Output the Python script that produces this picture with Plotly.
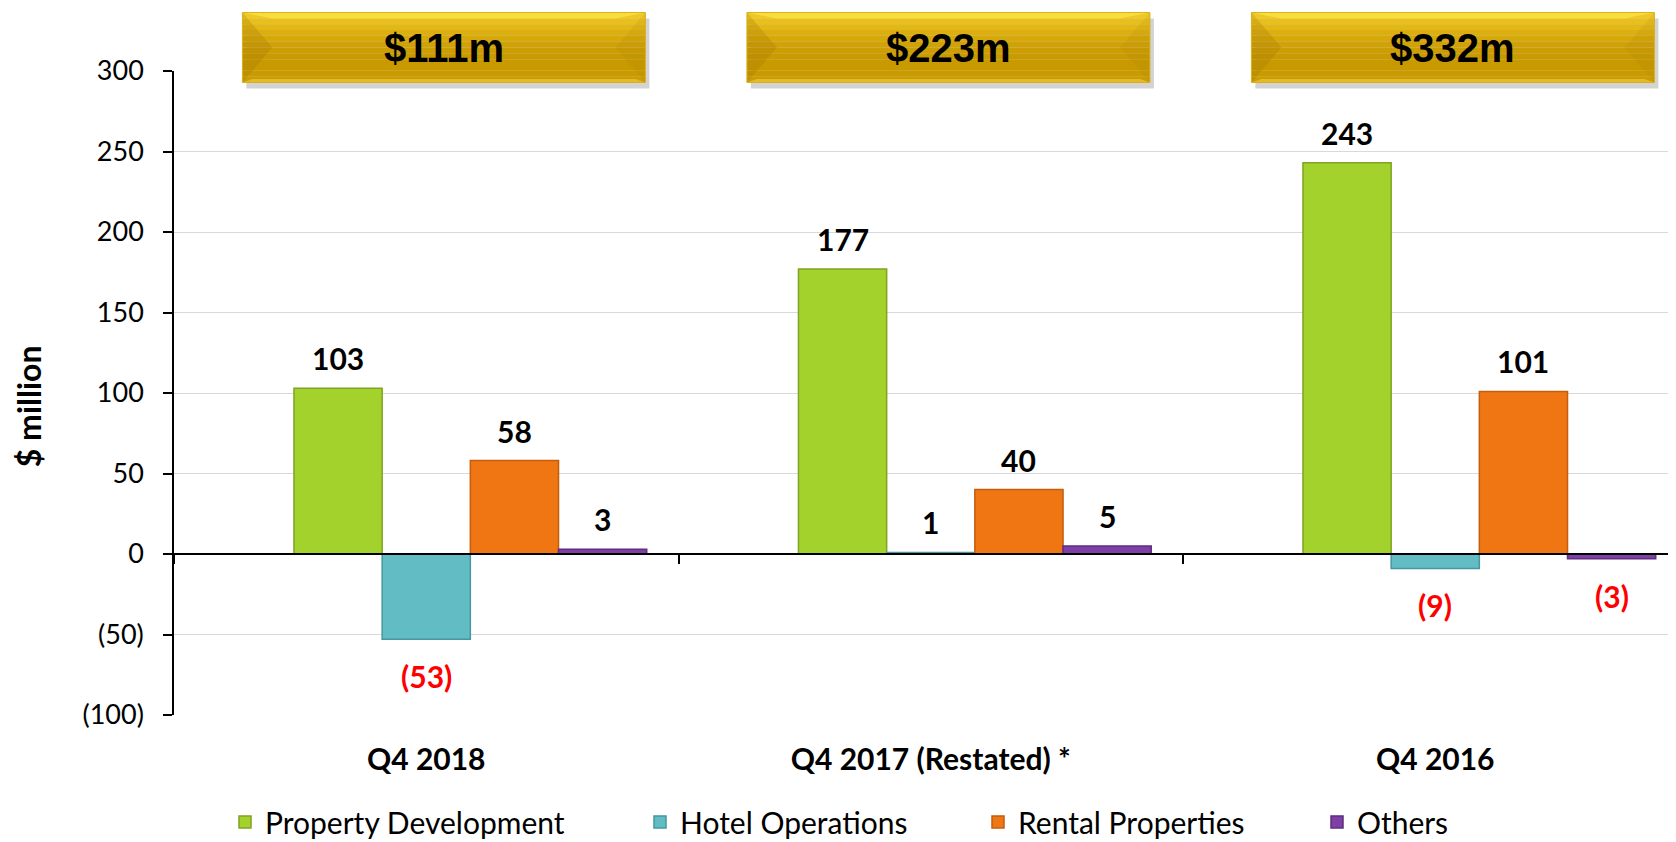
import plotly.graph_objects as go

categories = ["Q4 2018", "Q4 2017 (Restated) *", "Q4 2016"]
series_names = ["Property Development", "Hotel Operations", "Rental Properties", "Others"]
property_dev = [103, 177, 243]
hotel_ops = [-53, 1, -9]
rental = [58, 40, 101]
others = [3, 5, -3]
totals = ["$111m", "$223m", "$332m"]
y_ticks = [-100, -50, 0, 50, 100, 150, 200, 250, 300]
y_ticktext = ["(100)", "(50)", "0", "50", "100", "150", "200", "250", "300"]

series_values = [property_dev, hotel_ops, rental, others]
fills = ["#A4D22C", "#62BCC4", "#F07614", "#7E3FA6"]
edges = ["#7FA322", "#46979E", "#C25E0E", "#5E2E80"]

# page geometry (the page body has an 8px margin)
OFF = 8
W, H = 1676 - OFF, 842 - OFF
PL, PT, PB, PR = 174, 70.5, 715, 1676
plot_w = PR - PL
plot_h = PB - PT
ML, MT, MR, MB = PL - OFF, PT - OFF, 0, (OFF + H) - PB
px_per_cat = 504.5
x_end = -0.5 + plot_w / px_per_cat

bw = 0.1748
slot_start = -0.437
centers = [slot_start + bw * (k + 1.5) for k in range(4)]

fig = go.Figure()
legend_ids = ["legend", "legend2", "legend3", "legend4"]
for k in range(4):
    fig.add_trace(go.Bar(
        x=categories, y=series_values[k], name=series_names[k],
        width=bw, offset=centers[k] - bw / 2,
        marker=dict(color=fills[k], line=dict(color=edges[k], width=1.5)),
        legend=legend_ids[k], hoverinfo="skip",
    ))

# helper trace for the zero-line axis
fig.add_trace(go.Scatter(x=categories, y=[None] * 3, xaxis="x2", yaxis="y",
                         showlegend=False, hoverinfo="skip", mode="markers"))

annotations = []
# data labels
for k in range(4):
    for i, v in enumerate(series_values[k]):
        if v >= 0:
            annotations.append(dict(x=i + centers[k], y=v, xref="x", yref="y",
                                    text=f"<b>{v}</b>", showarrow=False,
                                    yanchor="middle", yshift=30,
                                    font=dict(family="Lato", size=30, color="#000000")))
        else:
            annotations.append(dict(x=i + centers[k], y=v, xref="x", yref="y",
                                    text=f"<b>({abs(v)})</b>", showarrow=False,
                                    yanchor="middle", yshift=-37,
                                    font=dict(family="Lato", size=30, color="#FF0000")))

# y title
annotations.append(dict(x=(28 - PL) / plot_w, y=1 - (406 - PT) / plot_h, xref="paper", yref="paper",
                        xanchor="center", yanchor="middle",
                        text="<b>$ million</b>", textangle=-90, showarrow=False,
                        font=dict(family="Lato", size=32, color="#000000")))

# gold boxes
shapes = []
box_w = 403 / px_per_cat
box_h = 70 / plot_h
bev_x = 30 / px_per_cat
bev_y = 6 / plot_h
box_cy = 1 + (PT - 47) / plot_h
sh_x = 4 / px_per_cat
sh_y = 6 / plot_h
grad = ["#EEC826", "#E8BF1C", "#E2B716", "#DCAF10", "#D6A80A", "#D1A206", "#CD9E03",
        "#CA9B01", "#C99A00", "#C99A00", "#CA9B01", "#CC9D02"]
for i, t in enumerate(totals):
    cx = i + 0.035
    x0, x1 = cx - box_w / 2, cx + box_w / 2
    y0, y1 = box_cy - box_h / 2, box_cy + box_h / 2
    shapes.append(dict(type="rect", xref="x", yref="paper", x0=x0 + sh_x, x1=x1 + sh_x,
                       y0=y0 - sh_y, y1=y1 - sh_y, fillcolor="rgba(110,110,110,0.30)",
                       line=dict(width=0), layer="above"))
    n = len(grad)
    for s, c in enumerate(grad):
        ya = y1 - (y1 - y0) * s / n
        yb = y1 - (y1 - y0) * (s + 1) / n
        shapes.append(dict(type="rect", xref="x", yref="paper", x0=x0, x1=x1, y0=yb, y1=ya,
                           fillcolor=c, line=dict(width=0), layer="above"))
    shapes.append(dict(type="path", xref="x", yref="paper",
                       path=f"M{x0},{y1} L{x1},{y1} L{x1 - bev_x},{y1 - bev_y} L{x0 + bev_x},{y1 - bev_y} Z",
                       fillcolor="#F8DE3C", line=dict(width=0), layer="above"))
    shapes.append(dict(type="path", xref="x", yref="paper",
                       path=f"M{x0},{y1} L{x0 + bev_x},{(y0 + y1) / 2} L{x0},{y0} Z",
                       fillcolor="rgba(150,105,0,0.22)", line=dict(width=0), layer="above"))
    shapes.append(dict(type="path", xref="x", yref="paper",
                       path=f"M{x1},{y1} L{x1 - bev_x},{(y0 + y1) / 2} L{x1},{y0} Z",
                       fillcolor="rgba(150,105,0,0.10)", line=dict(width=0), layer="above"))
    shapes.append(dict(type="path", xref="x", yref="paper",
                       path=f"M{x0},{y0} L{x1},{y0} L{x1 - bev_x / 3},{y0 + bev_y * 0.6} L{x0 + bev_x / 3},{y0 + bev_y * 0.6} Z",
                       fillcolor="#E4BA26", line=dict(width=0), layer="above"))
    shapes.append(dict(type="rect", xref="x", yref="paper", x0=x0, x1=x1, y0=y0, y1=y1,
                       fillcolor="rgba(0,0,0,0)", line=dict(color="#D9B01E", width=1), layer="above"))
    annotations.append(dict(x=cx, y=box_cy, xref="x", yref="paper", text=f"<b>{t}</b>",
                            showarrow=False, yanchor="middle", xanchor="center",
                            font=dict(family="Liberation Sans", size=40, color="#000000")))

legend_x_px = [225, 640, 978, 1317]
legend_y = -(822 - PB) / plot_h
layout_legends = {}
for k, lid in enumerate(legend_ids):
    layout_legends[lid] = dict(x=(legend_x_px[k] - PL) / plot_w, y=legend_y,
                               xanchor="left", yanchor="middle", orientation="h",
                               bgcolor="rgba(0,0,0,0)", borderwidth=0,
                               font=dict(family="Lato", size=30, color="#000000"))

fig.update_layout(
    width=W, height=H,
    margin=dict(l=ML, r=MR, t=MT, b=MB, autoexpand=False),
    plot_bgcolor="white", paper_bgcolor="white",
    barmode="overlay",
    showlegend=True,
    xaxis=dict(type="category", categoryarray=categories, range=[-0.5, x_end],
               showgrid=False, showline=False, zeroline=False, ticks="",
               tickfont=dict(family="Lato", size=30, color="#000000"),
               ticklabelstandoff=24, tickprefix="<b>", ticksuffix="</b>", automargin=False),
    xaxis2=dict(type="category", categoryarray=categories, range=[-0.5, x_end],
                overlaying="x", anchor="free", position=0.25,
                showline=True, linecolor="#000000", linewidth=1.5,
                ticks="outside", tickson="boundaries", ticklen=9, tickcolor="#000000", tickwidth=2,
                showticklabels=False, showgrid=False, zeroline=False, automargin=False),
    yaxis=dict(range=[-100, 300], tickvals=y_ticks, ticktext=y_ticktext,
               showline=True, linecolor="#000000", linewidth=1.5,
               ticks="outside", ticklen=9, tickcolor="#000000", tickwidth=1.5,
               gridcolor="#D9D9D9", gridwidth=1, zeroline=False,
               tickfont=dict(family="Lato", size=27, color="#000000"),
               ticklabelstandoff=14, automargin=False),
    annotations=annotations,
    shapes=shapes,
    **layout_legends,
)

fig.write_html("out.html")
